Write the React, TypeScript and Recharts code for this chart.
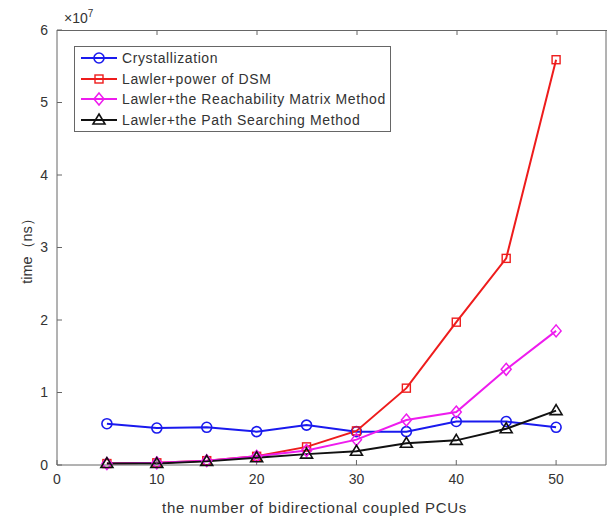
import { LineChart, Line, XAxis, YAxis } from 'recharts';

const counts = [5, 10, 15, 20, 25, 30, 35, 40, 45, 50];
const crystallization = [0.57, 0.51, 0.52, 0.46, 0.55, 0.46, 0.46, 0.6, 0.6, 0.52];
const lawlerDsm = [0.02, 0.03, 0.06, 0.12, 0.25, 0.47, 1.06, 1.97, 2.85, 5.59];
const lawlerReach = [0.02, 0.03, 0.06, 0.12, 0.2, 0.35, 0.62, 0.73, 1.32, 1.85];
const lawlerPath = [0.02, 0.02, 0.05, 0.1, 0.15, 0.19, 0.3, 0.34, 0.5, 0.75];
const xTicks = [0, 10, 20, 30, 40, 50];
const yTicks = [0, 1, 2, 3, 4, 5, 6];
const X_MAX = 55;
const Y_MAX = 6;

const SERIES = [
  { key: 'cry', name: 'Crystallization', color: '#1a1aee', shape: 'circle' },
  { key: 'dsm', name: 'Lawler+power of DSM', color: '#ee1c1c', shape: 'square' },
  { key: 'reach', name: 'Lawler+the Reachability Matrix Method', color: '#ee1cee', shape: 'diamond' },
  { key: 'path', name: 'Lawler+the Path Searching Method', color: '#111111', shape: 'triangle' },
];

const data = counts.map((n, i) => ({
  n,
  cry: crystallization[i],
  dsm: lawlerDsm[i],
  reach: lawlerReach[i],
  path: lawlerPath[i],
}));

const FONT = 'Liberation Sans, Arial, sans-serif';
// plot box (frame only)
const PLOT_LEFT = 57;
const PLOT_TOP = 30;
const PLOT_W = 550;

function Marker({ cx, cy, shape, color }: { cx: number; cy: number; shape: string; color: string }) {
  if (shape === 'circle') return <circle cx={cx} cy={cy} r={5} fill="none" stroke={color} strokeWidth={1.6} />;
  if (shape === 'square')
    return <rect x={cx - 4} y={cy - 4} width={8} height={8} fill="none" stroke={color} strokeWidth={1.4} />;
  if (shape === 'diamond')
    return (
      <polygon
        points={`${cx},${cy - 6} ${cx + 5},${cy} ${cx},${cy + 6} ${cx - 5},${cy}`}
        fill="none"
        stroke={color}
        strokeWidth={1.5}
      />
    );
  return (
    <polygon
      points={`${cx},${cy - 6} ${cx + 6},${cy + 4} ${cx - 6},${cy + 4}`}
      fill="none"
      stroke={color}
      strokeWidth={1.6}
    />
  );
}

const makeDot = (shape: string, color: string) => (props: any) =>
  <Marker key={props.index} cx={props.cx} cy={props.cy} shape={shape} color={color} />;

function LegendBox() {
  return (
    <div
      style={{
        position: 'absolute',
        left: 74,
        top: 46,
        width: 317,
        height: 86,
        boxSizing: 'border-box',
        border: '1px solid #666',
        background: '#fff',
        padding: '1px 0 0 4px',
        fontFamily: FONT,
        fontSize: 14,
        letterSpacing: 0.6,
        color: '#333',
        lineHeight: '20.5px',
      }}
    >
      {SERIES.map((s) => (
        <div key={s.key} style={{ display: 'flex', alignItems: 'center', whiteSpace: 'nowrap' }}>
          <svg width={40} height={16}>
            <line x1={2} y1={8} x2={38} y2={8} stroke={s.color} strokeWidth={2} />
            <Marker cx={20} cy={8} shape={s.shape} color={s.color} />
          </svg>
          <span style={{ marginLeft: 3 }}>{s.name}</span>
        </div>
      ))}
    </div>
  );
}

function TopFrame() {
  return (
    <svg
      width={PLOT_W + 2}
      height={8}
      style={{ position: 'absolute', left: PLOT_LEFT - 1, top: PLOT_TOP - 1, pointerEvents: 'none' }}
    >
      <line x1={1} y1={1.5} x2={PLOT_W + 1} y2={1.5} stroke="#666" strokeWidth={1} />
      {xTicks.slice(1).map((t) => {
        const x = 1 + (t / X_MAX) * PLOT_W;
        return <line key={t} x1={x} y1={1} x2={x} y2={6} stroke="#666" strokeWidth={1} />;
      })}
    </svg>
  );
}

const tickStyle = { fill: '#333', fontSize: 14, fontFamily: FONT };

export default function App() {
  return (
    <div style={{ position: 'absolute', left: 0, top: 0, width: 616, height: 520, background: '#fff' }}>
      <LineChart width={616} height={520} data={data} margin={{ top: PLOT_TOP, right: 9, bottom: 25, left: 27 }}>
        <XAxis
          type="number"
          dataKey="n"
          domain={[0, X_MAX]}
          ticks={xTicks}
          height={30}
          stroke="#666"
          tickSize={-5}
          tickMargin={14}
          tick={tickStyle}
          label={{
            value: 'the number of bidirectional coupled PCUs',
            position: 'insideBottom',
            offset: -18,
            dx: -17,
            style: { fill: '#333', fontSize: 15, letterSpacing: 0.7, fontFamily: FONT },
          }}
        />
        <YAxis
          yAxisId="l"
          type="number"
          domain={[0, Y_MAX]}
          ticks={yTicks}
          width={30}
          stroke="#666"
          tickSize={-5}
          tickMargin={14}
          tick={tickStyle}
          label={{
            value: 'time（ns）',
            angle: -90,
            position: 'insideLeft',
            offset: 0,
            style: { fill: '#333', fontSize: 14.5, fontFamily: FONT, textAnchor: 'middle' },
          }}
        />
        <YAxis
          yAxisId="r"
          orientation="right"
          type="number"
          domain={[0, Y_MAX]}
          ticks={yTicks}
          width={1}
          stroke="#666"
          tickSize={-5}
          tick={false}
        />
        {SERIES.map((s) => (
          <Line
            key={s.key}
            yAxisId="l"
            dataKey={s.key}
            name={s.name}
            stroke={s.color}
            strokeWidth={2}
            dot={makeDot(s.shape, s.color)}
            activeDot={false}
            isAnimationActive={false}
          />
        ))}
      </LineChart>
      <TopFrame />
      <LegendBox />
      <div style={{ position: 'absolute', left: 64, top: 8, fontFamily: FONT, fontSize: 14, color: '#333' }}>
        ×10<sup style={{ fontSize: 10 }}>7</sup>
      </div>
    </div>
  );
}
